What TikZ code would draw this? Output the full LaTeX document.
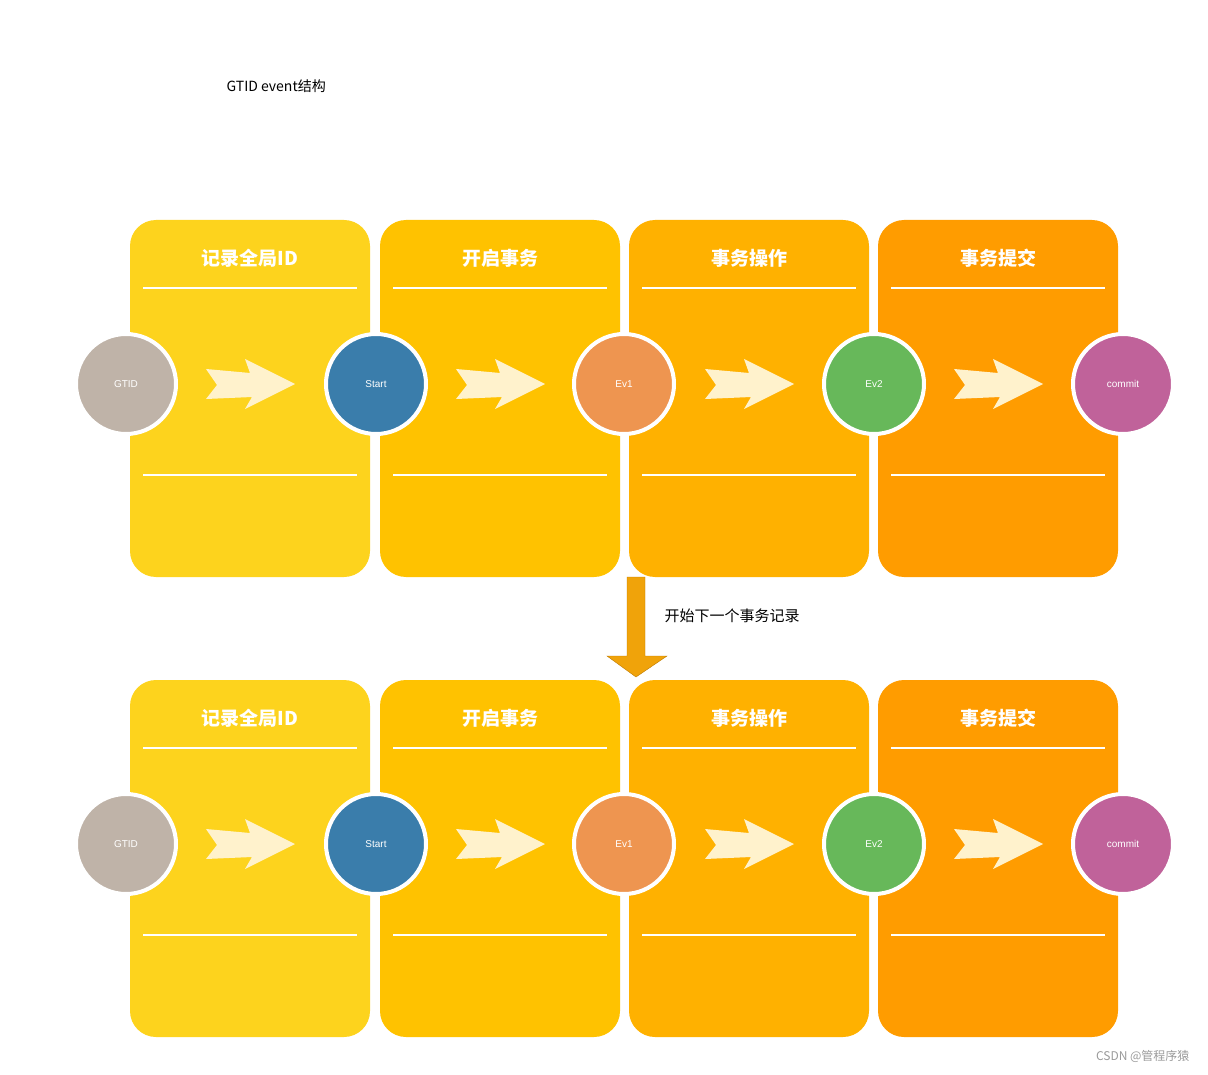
\documentclass[tikz,border=0pt]{standalone}
\usepackage{fontspec}
\setmainfont{Liberation Sans}
\newfontfamily\cjk{Noto Sans CJK SC}
\definecolor{c1}{HTML}{FDD31D}\definecolor{c2}{HTML}{FFC200}\definecolor{c3}{HTML}{FFB100}\definecolor{c4}{HTML}{FF9C00}
\definecolor{chevc}{HTML}{FFF2CC}
\definecolor{g}{HTML}{BFB3A8}\definecolor{s}{HTML}{3A7DAB}\definecolor{e1}{HTML}{EE9550}\definecolor{e2}{HTML}{67B85A}\definecolor{cm}{HTML}{C0629A}
\definecolor{arf}{HTML}{F0A30A}\definecolor{ard}{HTML}{BD7A00}\definecolor{wmc}{HTML}{9A9A9A}
\begin{document}
\begin{tikzpicture}[x=1pt,y=-1pt,
  panel/.style={rounded corners=26pt},
  ptitle/.style={text=white,font=\cjk\bfseries\fontsize{19}{22}\selectfont},
  sep/.style={white,line width=1.5pt},
  dot/.style={circle,draw=white,line width=4pt,minimum size=100pt,inner sep=0pt,text=white,font=\fontsize{10}{12}\selectfont},
  chev/.style={fill=chevc,draw=none}]
\useasboundingbox (0,0) rectangle (1208,1075);
\node[anchor=west,font=\cjk\fontsize{14}{16}\selectfont] (title) at (223,86) {GTID event结构};
\foreach \r/\dy in {a/0,b/460}{
  \foreach \i/\x/\c/\t in {1/130/c1/记录全局ID,2/380/c2/开启事务,3/629/c3/事务操作,4/878/c4/事务提交}{
    \fill[\c,panel] (\x,220+\dy) rectangle (\x+240,577+\dy);
    \node[ptitle] (t\r\i) at (\x+120,258+\dy) {\t};
    \draw[sep] (\x+13,288+\dy) -- (\x+227,288+\dy);
    \draw[sep] (\x+13,475+\dy) -- (\x+227,475+\dy);
    \fill[chev] (\x+76,369+\dy) -- (\x+120,373+\dy) -- (\x+115,359+\dy) -- (\x+165,384+\dy) -- (\x+115,409+\dy) -- (\x+122,397+\dy) -- (\x+76,399+\dy) -- (\x+87,385+\dy) -- cycle;
  }
  \node[dot,fill=g] (g\r) at (126,384+\dy) {GTID};
  \node[dot,fill=s] (s\r) at (376,384+\dy) {Start};
  \node[dot,fill=e1] (ea\r) at (624,384+\dy) {Ev1};
  \node[dot,fill=e2] (eb\r) at (874,384+\dy) {Ev2};
  \node[dot,fill=cm] (c\r) at (1123,384+\dy) {commit};
}
\draw[fill=arf,draw=ard] (627,577) -- (645,577) -- (645,656) -- (667,656) -- (636,677) -- (607,656) -- (627,656) -- cycle;
\node[anchor=west,font=\cjk\fontsize{15}{18}\selectfont] (lbl) at (661,616) {开始下一个事务记录};
\node[anchor=east,text=wmc,font=\cjk\fontsize{12}{14}\selectfont] (wm) at (1193,1056) {CSDN @管程序猿};
\end{tikzpicture}
\end{document}
